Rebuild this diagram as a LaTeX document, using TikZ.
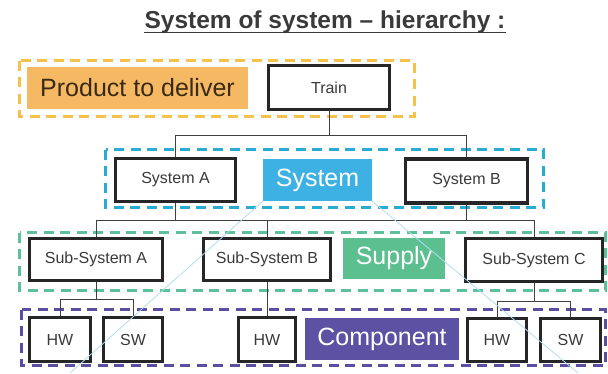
\documentclass[tikz,border=0pt]{standalone}
\usepackage{fontspec}
\setmainfont{Liberation Sans}
\usepackage{tikz}
\usetikzlibrary{positioning, calc}

\definecolor{prodfill}{HTML}{F5B963}
\definecolor{proddash}{HTML}{F4C24A}
\definecolor{prodtext}{HTML}{3A2A14}
\definecolor{sysfill}{HTML}{3DB1E3}
\definecolor{sysdash}{HTML}{2AABD2}
\definecolor{supfill}{HTML}{5CBF90}
\definecolor{supdash}{HTML}{5DC09B}
\definecolor{compfill}{HTML}{5C51A3}
\definecolor{compdash}{HTML}{5A4EA0}
\definecolor{txtgray}{HTML}{3A3A3A}
\definecolor{ghost}{HTML}{B3DDF0}

\tikzset{
  box/.style = {rectangle, draw=black!85, line width=3.2pt, fill=white, text=txtgray,
    font=\fontsize{16}{18}\selectfont, inner sep=0pt},
  tag/.style = {rectangle, inner sep=0pt, text=white, font=\fontsize{25}{28}\selectfont},
  group/.style = {line width=3pt, dash pattern=on 10pt off 6.5pt},
  link/.style = {line width=1pt, draw=black!75},
  faint/.style = {line width=0.8pt, draw=ghost}
}

\begin{document}
\begin{tikzpicture}[x=1pt, y=-1pt]
  \useasboundingbox (0,0) rectangle (608,373);

  % dashed groups
  \draw [group, draw=proddash] (19.5,60.5) rectangle (414.5,116.5);
  \draw [group, draw=sysdash] (105.5,149.5) rectangle (543.5,207.5);
  \draw [group, draw=supdash] (19.5,232.5) rectangle (605.5,290.5);
  \draw [group, draw=compdash] (21.5,309.5) rectangle (605.5,365.5);

  \node (Title) [font=\bfseries\fontsize{24.5}{28}\selectfont, text=txtgray, inner sep=0pt, anchor=base] at (325,28) {System of system -- hierarchy :};
  \draw [line width=1.8pt, txtgray] ($(Title.base west)+(0,4.5)$) -- ($(Title.base east)+(0,4.5)$);

  \node (Product) [tag, fill=prodfill, text=prodtext, minimum width=221pt, minimum height=42pt] at (137.5,88) {Product to deliver};
  \node (Train) [box, minimum width=121pt, minimum height=44pt] at (329,87.5) {Train};

  \node (SysA) [box, minimum width=120pt, minimum height=43pt] at (175.5,180) {System A};
  \node (System) [tag, fill=sysfill, minimum width=109pt, minimum height=42pt] at (317.5,180) {System};
  \node (SysB) [box, minimum width=122pt, minimum height=44pt] at (466.5,181) {System B};

  \node (SubA) [box, minimum width=133pt, minimum height=42pt] at (96,259.5) {Sub-System A};
  \node (SubB) [box, minimum width=127pt, minimum height=42pt] at (267,259.5) {Sub-System B};
  \node (Supply) [tag, fill=supfill, minimum width=102pt, minimum height=41pt] at (394,258.5) {Supply};
  \node (SubC) [box, minimum width=137pt, minimum height=43pt] at (534,260) {Sub-System C};

  \node (HWa) [box, minimum width=61pt, minimum height=44pt] at (60,339.5) {HW};
  \node (SWa) [box, minimum width=59pt, minimum height=44pt] at (133,339.5) {SW};
  \node (HWb) [box, minimum width=57pt, minimum height=44pt] at (267,339.5) {HW};
  \node (Component) [tag, fill=compfill, minimum width=154pt, minimum height=42pt] at (382,339) {Component};
  \node (HWc) [box, minimum width=59pt, minimum height=43pt] at (497,340) {HW};
  \node (SWc) [box, minimum width=60pt, minimum height=43pt] at (570.5,340) {SW};

  \coordinate (BusT) at (0,135);
  \coordinate (BusS) at (0,220);
  \coordinate (BusA) at (0,299);
  \coordinate (BusC) at (0,301);

  \draw [link] (Train.south) -- (Train.south |- BusT);
  \draw [link] (SysA.north) |- (SysB.north |- BusT) -- (SysB.north);
  \draw [link] (SysA.south) -- (SysA.south |- BusS);
  \draw [link] (SysB.south) -- (SysB.south |- BusS);
  \draw [link] (SubA.north) |- (SubC.north |- BusS) -- (SubC.north);
  \draw [link] (SubB.north) -- (SubB.north |- BusS);
  \draw [link] (SubA.south) -- (SubA.south |- BusA);
  \draw [link] (HWa.north) |- (SWa.north |- BusA) -- (SWa.north);
  \draw [link] (SubB.south) -- (HWb.north);
  \draw [link] (SubC.south) -- (SubC.south |- BusC);
  \draw [link] (HWc.north) |- (SWc.north |- BusC) -- (SWc.north);

  % faint lines under the System label
  \coordinate (GhostL) at (70,373);
  \coordinate (GhostR) at (578,373);
  \draw [faint] (System.south west) -- (GhostL);
  \draw [faint] (System.south east) -- (GhostR);
\end{tikzpicture}
\end{document}
